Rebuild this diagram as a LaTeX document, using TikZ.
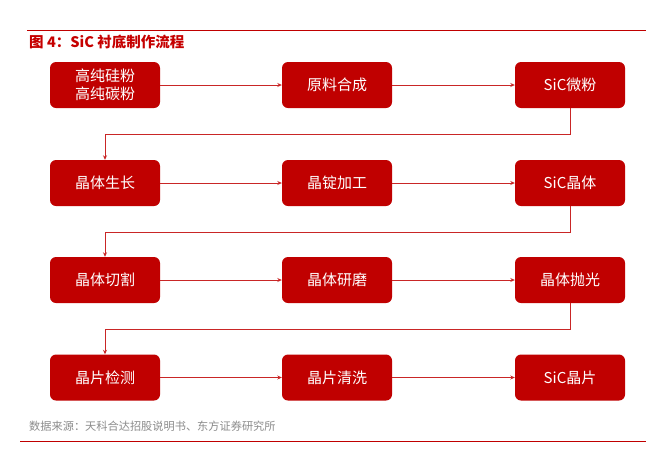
\documentclass[tikz,border=0pt]{standalone}
\usepackage{fontspec}
\setmainfont{Noto Sans CJK SC}
\usetikzlibrary{arrows.meta}
\definecolor{dfred}{HTML}{C00000}
\definecolor{srcgray}{HTML}{8C8C8C}
\tikzset{
  stepbox/.style={fill=dfred, draw=none, rounded corners=6pt, minimum width=110pt, minimum height=46pt,
    text=white, font=\fontsize{15}{17}\selectfont, align=center, inner sep=0pt},
  conn/.style={draw=dfred!85, line width=0.8pt, -{Stealth[length=4.5pt, width=4pt]}}
}
\begin{document}
\begin{tikzpicture}[x=1pt, y=-1pt]
  \useasboundingbox (0,0) rectangle (647,456);
  \fill[white] (0,0) rectangle (647,456);
  \draw[dfred, line width=0.8pt] (27,30) -- (646,30);
  \draw[dfred, line width=0.8pt] (20,441) -- (646,441);
  \node[anchor=west, text=dfred!90!red, font=\fontsize{14.5}{16}\selectfont\bfseries, inner sep=0pt] (title) at (29,42) {图 4：SiC 衬底制作流程};
  \node[anchor=west, text=srcgray, font=\fontsize{11.2}{13}\selectfont, inner sep=0pt] (src) at (29,426) {数据来源：天科合达招股说明书、东方证券研究所};
  \foreach \r/\y in {1/85, 2/183, 3/280, 4/377.5} {
    \foreach \c/\x in {1/105, 2/337, 3/570} {
      \coordinate (p\r\c) at (\x,\y);
    }
  }
  \node[stepbox] (b11) at (p11) {高纯硅粉\\[1pt]高纯碳粉};
  \node[stepbox] (b12) at (p12) {原料合成};
  \node[stepbox] (b13) at (p13) {SiC微粉};
  \node[stepbox] (b21) at (p21) {晶体生长};
  \node[stepbox] (b22) at (p22) {晶锭加工};
  \node[stepbox] (b23) at (p23) {SiC晶体};
  \node[stepbox] (b31) at (p31) {晶体切割};
  \node[stepbox] (b32) at (p32) {晶体研磨};
  \node[stepbox] (b33) at (p33) {晶体抛光};
  \node[stepbox] (b41) at (p41) {晶片检测};
  \node[stepbox] (b42) at (p42) {晶片清洗};
  \node[stepbox] (b43) at (p43) {SiC晶片};
  \foreach \r in {1,...,4} {
    \draw[conn] (b\r1) -- (b\r2);
    \draw[conn] (b\r2) -- (b\r3);
  }
  \foreach \r/\s in {1/2, 2/3, 3/4}
    \draw[conn] (b\r3.south) -- ++(0,26) -| (b\s1.north);
\end{tikzpicture}
\end{document}
